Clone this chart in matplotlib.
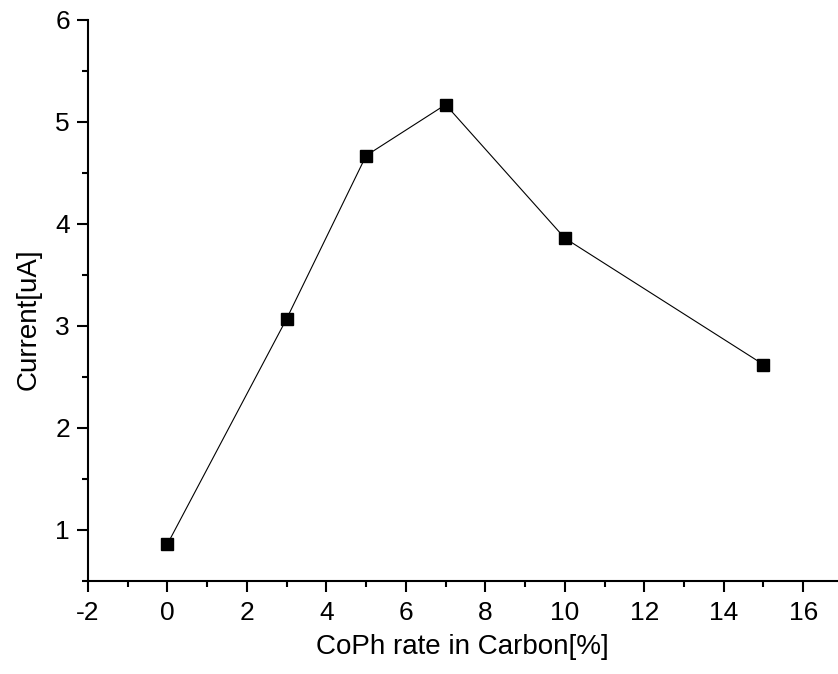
import matplotlib
matplotlib.use("Agg")
import matplotlib.pyplot as plt
from matplotlib.ticker import MultipleLocator

plt.rcParams['font.family'] = ['Liberation Sans', 'DejaVu Sans']
plt.rcParams['axes.unicode_minus'] = False

rate = [0, 3, 5, 7, 10, 15]
current = [0.86, 3.07, 4.67, 5.17, 3.86, 2.62]
x_label = "CoPh rate in Carbon[%]"
y_label = "Current[uA]"

fig = plt.figure(figsize=(8.38, 6.74), dpi=100)
ax = fig.add_axes([88/838, 1 - 580.7/674, (837 - 88)/838, (580.7 - 20)/674])

ax.plot(rate, current, color='black', linewidth=0.8, marker='s',
        markersize=8.6, markerfacecolor='black', markeredgecolor='black')

ax.set_xlim(-2, 16.85)
ax.set_ylim(0.5, 6)
ax.xaxis.set_major_locator(MultipleLocator(2))
ax.xaxis.set_minor_locator(MultipleLocator(1))
ax.yaxis.set_major_locator(MultipleLocator(1))
ax.yaxis.set_minor_locator(MultipleLocator(0.5))
ax.set_yticks([1, 2, 3, 4, 5, 6])

for s in ['top', 'right']:
    ax.spines[s].set_visible(False)
for s in ['left', 'bottom']:
    ax.spines[s].set_linewidth(1.5)

ax.tick_params(which='major', direction='out', length=8, width=1.5, labelsize=19)
ax.tick_params(which='minor', direction='out', length=4.5, width=1.5)
ax.tick_params(axis='x', which='major', pad=6.5)
ax.tick_params(axis='y', which='major', pad=5)

ax.set_xlabel(x_label, fontsize=20)
ax.set_ylabel(y_label, fontsize=20)
ax.xaxis.label.set_va('center')
ax.yaxis.label.set_va('center')
ax.xaxis.set_label_coords(0.5 * (316.7 + 608 - 2 * 88) / 749, (580.7 - 647) / 560.7)
ax.yaxis.set_label_coords((28.5 - 88) / 749, (580.7 - 319) / 560.7)

fig.savefig("out.png", dpi=100)
